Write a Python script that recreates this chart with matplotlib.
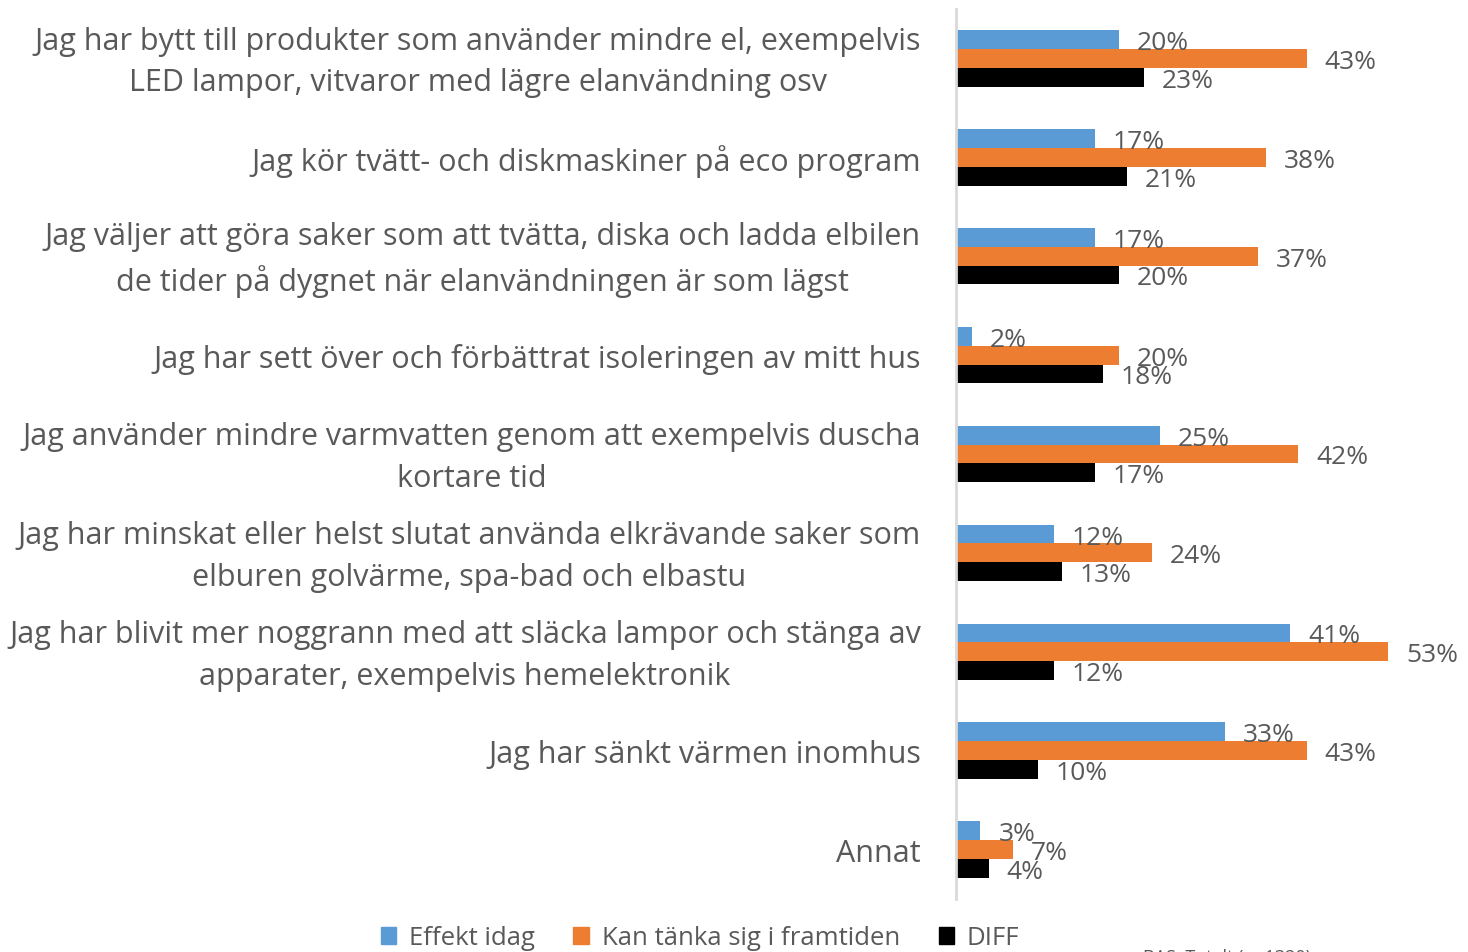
import matplotlib.pyplot as plt
from matplotlib.patches import Patch

# survey answers, top to bottom as in the chart
categories = [
    "Jag har bytt till produkter som använder mindre el, exempelvis\nLED lampor, vitvaror med lägre elanvändning osv",
    "Jag kör tvätt- och diskmaskiner på eco program",
    "Jag väljer att göra saker som att tvätta, diska och ladda elbilen\nde tider på dygnet när elanvändningen är som lägst",
    "Jag har sett över och förbättrat isoleringen av mitt hus",
    "Jag använder mindre varmvatten genom att exempelvis duscha\nkortare tid",
    "Jag har minskat eller helst slutat använda elkrävande saker som\nelburen golvärme, spa-bad och elbastu",
    "Jag har blivit mer noggrann med att släcka lampor och stänga av\napparater, exempelvis hemelektronik",
    "Jag har sänkt värmen inomhus",
    "Annat",
]
effekt_idag = [20, 17, 17, 2, 25, 12, 41, 33, 3]
kan_tanka = [43, 38, 37, 20, 42, 24, 53, 43, 7]
diff = [23, 21, 20, 18, 17, 13, 12, 10, 4]

series_names = ["Effekt idag", "Kan tänka sig i framtiden", "DIFF"]
colors = ["#5B9BD5", "#ED7D31", "#000000"]
text_grey = "#595959"

plt.rcParams['font.family'] = ['Open Sans', 'DejaVu Sans']

fig = plt.figure(figsize=(14.68, 9.53), dpi=100)
ax = fig.add_axes([956 / 1468, 53 / 953, 512 / 1468, 890 / 953])

bar_h = 0.19
ys = list(range(len(categories)))
for k, (vals, col) in enumerate(zip([effekt_idag, kan_tanka, diff], colors)):
    pos = [y + (k - 1) * bar_h for y in ys]
    ax.barh(pos, vals, height=bar_h, color=col, label=series_names[k])
    for p, v in zip(pos, vals):
        ax.text(v + 2.2, p + 0.03, f"{v}%", va='center', ha='left',
                fontsize=19, color=text_grey, clip_on=False)

ax.set_ylim(len(categories) - 0.5, -0.5)
ax.set_xlim(0, 62.8)

# category labels drawn by hand so they sit on the group centre
for y, txt in zip(ys, categories):
    ax.annotate(txt, xy=(0, y), xycoords=('axes fraction', 'data'),
                xytext=(-35, -3), textcoords='offset pixels',
                ha='right', va='center', multialignment='center',
                fontsize=22, color=text_grey, linespacing=1.5,
                annotation_clip=False)
ax.set_yticks([])
ax.set_xticks([])

for s in ['top', 'right', 'bottom']:
    ax.spines[s].set_visible(False)
ax.spines['left'].set_color('#D9D9D9')
ax.spines['left'].set_linewidth(2)

handles = [Patch(color=c) for c in colors]
fig.legend(handles, series_names, loc='center', ncol=3,
           bbox_to_anchor=(700 / 1468, 1 - 939 / 953), frameon=False,
           fontsize=18.5, labelcolor=text_grey, handlelength=0.6,
           handleheight=0.6, handletextpad=0.5, columnspacing=1.5)

fig.text(1143 / 1468, 1 - 958 / 953, "BAS: Totalt (n=1320)", fontsize=13,
         color=text_grey, ha='left', va='center')

fig.savefig("out.png", dpi=100)
